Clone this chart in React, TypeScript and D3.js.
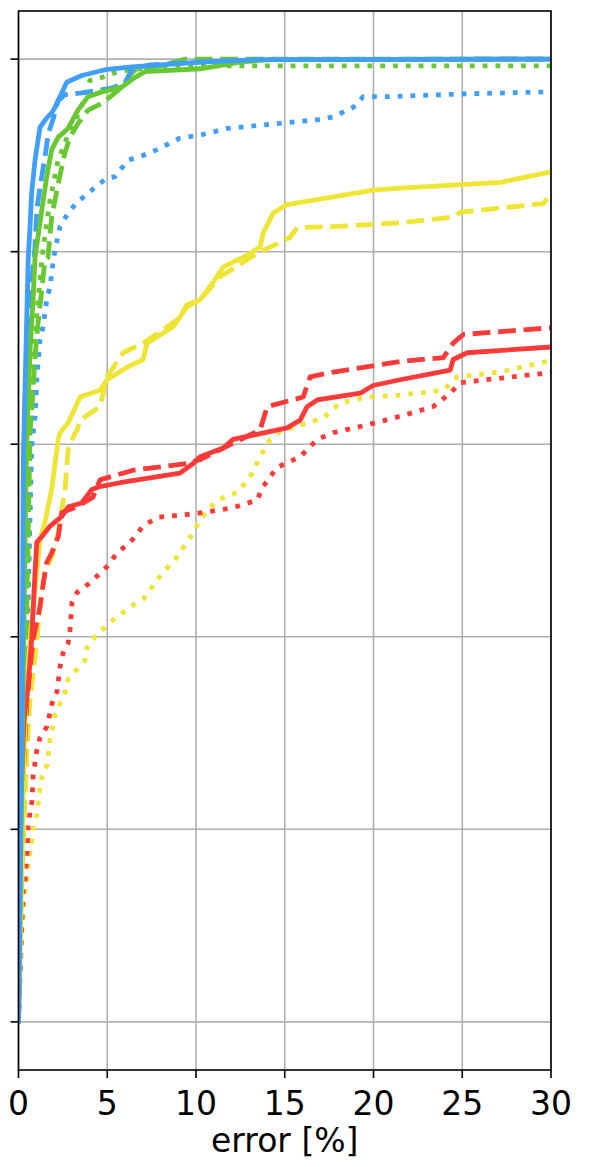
import React from "react";
import * as d3 from "d3";

type P = [number, number];

const xTicks = [0, 5, 10, 15, 20, 25, 30];
const yTicks = [0, 0.2, 0.4, 0.6, 0.8, 1.0];
const xLabel = "error [%]";

const blueSolid: P[] = [[0,0],[0.085,0.127],[0.2,0.335],[0.28,0.594],[0.42,0.698],[0.55,0.794],[0.65,0.826],[0.74,0.861],[0.93,0.895],[1.21,0.929],[1.59,0.939],[1.87,0.944],[2.06,0.95],[2.44,0.965],[2.72,0.976],[3.56,0.983],[4.88,0.989],[6.38,0.992],[10.23,0.997],[13.61,0.9995],[30,1.0]];
const blueDashed: P[] = [[0,0],[0.14,0.179],[0.25,0.387],[0.37,0.542],[0.48,0.646],[0.65,0.75],[0.93,0.805],[1.03,0.843],[1.21,0.867],[1.49,0.898],[1.68,0.923],[1.94,0.937],[2.23,0.957],[2.62,0.963],[3.56,0.965],[5.25,0.97],[6.0,0.975],[6.38,0.989],[7.41,0.994],[10.23,0.997],[13.61,0.9995],[30,1.0]];
const blueDotted: P[] = [[0,0],[0.085,0.096],[0.2,0.21],[0.37,0.335],[0.54,0.439],[0.74,0.597],[0.93,0.629],[1.03,0.667],[1.1,0.684],[1.21,0.708],[1.38,0.722],[1.49,0.736],[1.59,0.75],[1.78,0.764],[1.94,0.788],[2.06,0.802],[2.34,0.826],[2.79,0.84],[3.28,0.851],[4.13,0.864],[4.88,0.875],[5.44,0.878],[6.17,0.895],[7.02,0.9],[7.81,0.906],[9.1,0.918],[10.23,0.921],[11.75,0.928],[14.01,0.932],[16.83,0.937],[17.73,0.94],[18.86,0.95],[19.42,0.961],[20.77,0.961],[25.28,0.964],[30,0.966]];

const greenSolid: P[] = [[0,0],[0.085,0.127],[0.27,0.362],[0.37,0.501],[0.46,0.601],[0.55,0.646],[0.65,0.698],[0.82,0.75],[0.93,0.794],[1.31,0.843],[1.59,0.878],[1.87,0.906],[2.24,0.919],[2.79,0.928],[3.35,0.947],[3.92,0.961],[4.69,0.966],[5.82,0.971],[6.57,0.981],[7.13,0.987],[10.23,0.99],[12.49,0.997],[14.18,0.9995],[30,1.0]];
const greenDashed: P[] = [[0,0],[0.14,0.127],[0.31,0.283],[0.48,0.439],[0.65,0.612],[0.82,0.656],[0.93,0.69],[1.1,0.726],[1.31,0.76],[1.49,0.791],[1.66,0.794],[1.87,0.836],[2.24,0.871],[2.62,0.903],[2.9,0.919],[3.35,0.933],[3.92,0.947],[4.69,0.954],[5.44,0.965],[5.82,0.971],[6.17,0.981],[6.57,0.989],[7.98,0.993],[9.39,1.0],[30,1.0]];
const greenDotted: P[] = [[0,0],[0.17,0.127],[0.34,0.283],[0.54,0.439],[0.7,0.594],[0.87,0.698],[1.1,0.75],[1.38,0.802],[1.78,0.854],[2.23,0.895],[2.79,0.921],[3.47,0.947],[4.03,0.978],[4.69,0.981],[5.44,0.986],[6.29,0.989],[7.98,0.992],[10.23,0.993],[30,0.993]];

const yellowSolid: P[] = [[0,0],[0.085,0.075],[0.2,0.179],[0.31,0.283],[0.46,0.348],[0.65,0.397],[0.83,0.431],[1.03,0.467],[1.21,0.501],[1.49,0.519],[1.87,0.553],[2.24,0.605],[2.34,0.612],[2.79,0.622],[3.47,0.649],[4.59,0.656],[4.99,0.667],[6.12,0.68],[7.02,0.688],[7.24,0.705],[8.71,0.722],[9.5,0.743],[10.23,0.75],[10.96,0.768],[11.53,0.784],[13.05,0.798],[13.61,0.805],[13.78,0.819],[14.34,0.84],[15.13,0.849],[17.73,0.857],[19.98,0.864],[21.5,0.866],[27.14,0.872],[30,0.883]];
const yellowDashed: P[] = [[0,0],[0.085,0.086],[0.25,0.179],[0.48,0.283],[0.65,0.335],[0.83,0.362],[1.03,0.397],[1.21,0.431],[1.49,0.467],[1.87,0.483],[2.24,0.508],[2.62,0.553],[2.81,0.597],[2.9,0.601],[3.3,0.615],[3.47,0.625],[4.59,0.639],[4.99,0.67],[5.89,0.695],[7.02,0.705],[8.93,0.729],[9.5,0.745],[10.23,0.75],[11.36,0.774],[13.44,0.798],[15.3,0.815],[15.7,0.825],[17.73,0.826],[21.5,0.83],[24.49,0.836],[24.89,0.841],[29.57,0.85],[30,0.861]];
const yellowDotted: P[] = [[0,0],[0.085,0.055],[0.2,0.096],[0.37,0.136],[0.48,0.148],[0.54,0.162],[0.65,0.176],[0.76,0.19],[0.82,0.2],[1.04,0.216],[1.21,0.242],[1.32,0.255],[1.61,0.267],[1.78,0.293],[1.94,0.307],[2.06,0.319],[2.34,0.331],[2.62,0.342],[2.79,0.356],[3.3,0.366],[3.75,0.376],[3.86,0.389],[4.31,0.4],[5.16,0.415],[6.29,0.431],[7.02,0.439],[7.98,0.463],[8.93,0.483],[9.84,0.508],[10.23,0.522],[11.19,0.542],[12.32,0.55],[13.05,0.566],[13.61,0.587],[14.18,0.605],[14.74,0.613],[15.87,0.62],[17.16,0.627],[18.12,0.643],[19.64,0.649],[21.5,0.651],[23.93,0.656],[24.72,0.67],[27.14,0.675],[30,0.687]];

const redSolid: P[] = [[0,0],[0.06,0.127],[0.14,0.231],[0.31,0.314],[0.54,0.348],[0.74,0.397],[0.93,0.467],[1.03,0.498],[1.31,0.504],[1.78,0.515],[2.44,0.525],[2.81,0.535],[3.56,0.539],[4.13,0.553],[4.59,0.556],[5.72,0.56],[9.1,0.57],[9.84,0.58],[10.23,0.587],[11.53,0.596],[12.09,0.605],[15.13,0.617],[15.87,0.625],[16.26,0.639],[16.83,0.646],[19.25,0.653],[19.98,0.661],[21.5,0.667],[24.32,0.677],[24.49,0.688],[25.28,0.695],[30,0.701]];
const redDashed: P[] = [[0,0],[0.085,0.127],[0.25,0.252],[0.48,0.335],[0.82,0.397],[1.21,0.431],[1.4,0.456],[1.59,0.477],[1.87,0.487],[2.24,0.504],[2.44,0.529],[3.3,0.535],[4.2,0.545],[4.59,0.563],[6.46,0.573],[9.5,0.58],[10.23,0.584],[12.09,0.601],[13.61,0.615],[14.01,0.639],[16.04,0.649],[16.43,0.67],[17.73,0.675],[21.5,0.686],[23.93,0.69],[24.49,0.705],[25.06,0.714],[30,0.721]];
const redDotted: P[] = [[0,0],[0.14,0.075],[0.25,0.135],[0.37,0.148],[0.48,0.176],[0.54,0.202],[0.65,0.218],[0.76,0.229],[0.82,0.255],[0.93,0.269],[1.04,0.283],[1.21,0.295],[1.61,0.307],[1.89,0.331],[2.17,0.343],[2.34,0.369],[2.51,0.383],[2.79,0.393],[2.9,0.407],[3.02,0.436],[3.3,0.446],[4.03,0.456],[4.99,0.473],[5.55,0.487],[6.29,0.498],[7.02,0.515],[7.81,0.524],[10.06,0.528],[12.09,0.534],[13.44,0.542],[13.78,0.556],[14.57,0.576],[15.87,0.587],[16.83,0.605],[17.73,0.612],[19.64,0.62],[21.5,0.629],[23.36,0.639],[24.32,0.653],[24.89,0.664],[29.79,0.674],[30,0.675]];

const BLUE = "#3f9ff9";
const GREEN = "#68c832";
const YELLOW = "#eee534";
const RED = "#fd3a3a";

const LW = 4.8;
const DASH = "17.8,7.7";
const DOT = "4.8,8";

const seriesList = [
  { data: yellowDotted, color: YELLOW, dash: DOT },
  { data: redDotted, color: RED, dash: DOT },
  { data: greenDotted, color: GREEN, dash: DOT },
  { data: blueDotted, color: BLUE, dash: DOT },
  { data: yellowDashed, color: YELLOW, dash: DASH },
  { data: redDashed, color: RED, dash: DASH },
  { data: greenDashed, color: GREEN, dash: DASH },
  { data: blueDashed, color: BLUE, dash: DASH },
  { data: yellowSolid, color: YELLOW, dash: null },
  { data: redSolid, color: RED, dash: null },
  { data: greenSolid, color: GREEN, dash: null },
  { data: blueSolid, color: BLUE, dash: null },
];

export default function App() {
  const W = 598, H = 1167;
  const left = 18.5, right = 551, top = 11, bottom = 1070;
  const x = d3.scaleLinear().domain([0, 30]).range([left, right]);
  const y = d3.scaleLinear().domain([-0.05, 1.05]).range([bottom, top]);
  const line = d3.line<P>().x((d) => x(d[0])).y((d) => y(d[1]));
  const font = "DejaVu Sans, sans-serif";
  return (
    <svg width={W} height={H} style={{ position: "absolute", left: 0, top: 0, background: "#fff" }}>
      <defs>
        <clipPath id="plotclip">
          <rect x={left} y={top} width={right - left} height={bottom - top} />
        </clipPath>
      </defs>
      <rect x={0} y={0} width={W} height={H} fill="#fff" />
      {xTicks.map((t) => (
        <line key={"gx" + t} x1={x(t)} x2={x(t)} y1={top} y2={bottom} stroke="#b0b0b0" strokeWidth={1.6} />
      ))}
      {yTicks.map((t) => (
        <line key={"gy" + t} x1={left} x2={right} y1={y(t)} y2={y(t)} stroke="#b0b0b0" strokeWidth={1.6} />
      ))}
      <g clipPath="url(#plotclip)">
        {seriesList.map((s, i) => (
          <path
            key={i}
            d={line(s.data) || ""}
            fill="none"
            stroke={s.color}
            strokeWidth={LW}
            strokeDasharray={s.dash || undefined}
            strokeLinejoin="round"
            strokeLinecap={s.dash ? "butt" : "round"}
          />
        ))}
      </g>
      <rect x={left} y={top} width={right - left} height={bottom - top} fill="none" stroke="#000" strokeWidth={1.6} />
      {xTicks.map((t) => (
        <g key={"tx" + t}>
          <line x1={x(t)} x2={x(t)} y1={bottom} y2={bottom + 8} stroke="#000" strokeWidth={1.6} />
          <text x={x(t)} y={1115} textAnchor="middle" fontFamily={font} fontSize={33} fill="#000">
            {t}
          </text>
        </g>
      ))}
      {yTicks.map((t) => (
        <line key={"ty" + t} x1={left - 8} x2={left} y1={y(t)} y2={y(t)} stroke="#000" strokeWidth={1.6} />
      ))}
      <text x={(left + right) / 2} y={1152} textAnchor="middle" fontFamily={font} fontSize={33} fill="#000">
        {xLabel}
      </text>
    </svg>
  );
}
